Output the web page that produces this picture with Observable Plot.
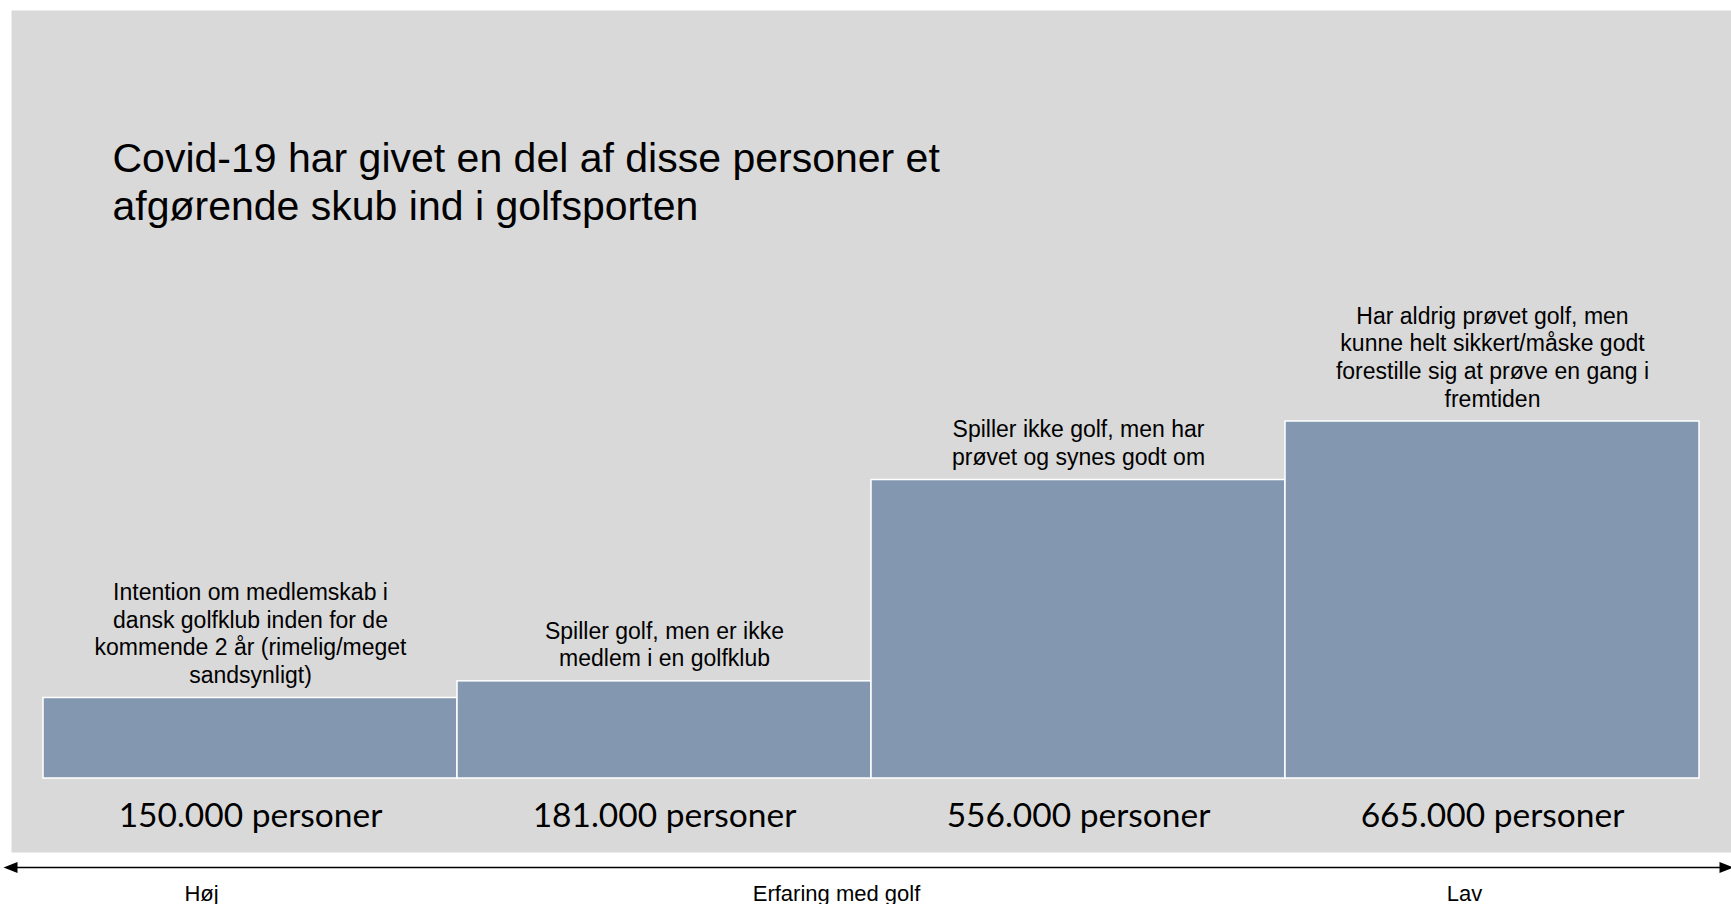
<!DOCTYPE html>
<html>
<head>
<meta charset="utf-8">
<script src="https://cdn.jsdelivr.net/npm/d3@7"></script>
<script src="https://cdn.jsdelivr.net/npm/@observablehq/plot@0.6"></script>
<style>
  html, body { margin: 0; padding: 0; background: #fff; overflow: hidden; }
  #chart svg { display: block; }
</style>
</head>
<body>
<div id="chart"></div>
<script>
// ---- data ----
const title = "Covid-19 har givet en del af disse personer et\nafgørende skub ind i golfsporten";
const categories = ["A", "B", "C", "D"];
const descriptions = [
  "Intention om medlemskab i\ndansk golfklub inden for de\nkommende 2 år (rimelig/meget\nsandsynligt)",
  "Spiller golf, men er ikke\nmedlem i en golfklub",
  "Spiller ikke golf, men har\nprøvet og synes godt om",
  "Har aldrig prøvet golf, men\nkunne helt sikkert/måske godt\nforestille sig at prøve en gang i\nfremtiden"
];
const persons = [150000, 181000, 556000, 665000];
const axisTitle = "Erfaring med golf";
const axisLow = "Høj";
const axisHigh = "Lav";
const arrowEnds = [0, 1];

// ---- build ----
const fmt = d3.formatLocale({decimal: ",", thousands: ".", grouping: [3], currency: ["", ""]}).format(",");
const data = categories.map((c, i) => ({cat: c, value: persons[i], desc: descriptions[i], label: fmt(persons[i]) + " personer"}));

const main = Plot.plot({
  width: 1731,
  height: 852,
  marginTop: 10,
  marginLeft: 11,
  marginRight: 0,
  marginBottom: 0,
  style: {background: "transparent", overflow: "visible"},
  x: {type: "band", domain: categories, range: [43, 1699], padding: 0, axis: null},
  y: {domain: [0, 665000], range: [778, 421], axis: null},
  marks: [
    Plot.frame({fill: "#d9d9d9", stroke: null}),
    Plot.text([title], {
      text: d => d, frameAnchor: "top-left", lineAnchor: "top", textAnchor: "start",
      dx: 101, dy: 127, fontSize: 41, lineHeight: 1.18, fill: "#000",
      fontFamily: "'Liberation Sans', Arial, sans-serif"
    }),
    Plot.barY(data, {x: "cat", y: "value", fill: "#8497b0", stroke: "#fff", strokeWidth: 1.5}),
    Plot.text(data, {
      x: "cat", y: "value", text: "desc", lineAnchor: "bottom", dy: -15,
      fontSize: 23, lineHeight: 1.2, fill: "#000",
      fontFamily: "'Liberation Sans', Arial, sans-serif"
    }),
    Plot.text(data, {
      x: "cat", y: () => 0, text: "label", lineAnchor: "middle", dy: 38,
      fontSize: 33.5, fill: "#000", fontFamily: "Lato, 'Open Sans', sans-serif"
    })
  ]
});

const headRight = {draw(ctx) { ctx.moveTo(7, 0); ctx.lineTo(-7, -5.5); ctx.lineTo(-7, 5.5); ctx.closePath(); }};

const bottom = Plot.plot({
  width: 1731,
  height: 52,
  marginTop: 15,
  marginBottom: 4,
  marginLeft: 10,
  marginRight: 5,
  style: {background: "transparent", overflow: "visible"},
  x: {domain: [0, 1], axis: null},
  y: {domain: [0, 1], range: [15, 48], axis: null},
  marks: [
    Plot.ruleY([0], {stroke: "#000", strokeWidth: 1.5}),
    Plot.dot(arrowEnds, {
      x: d => d, y: () => 0, symbol: headRight, r: 7, fill: "#000", stroke: null,
      rotate: d => d === 0 ? 180 : 0
    }),
    Plot.text([axisLow], {text: d => d, frameAnchor: "bottom-left", lineAnchor: "bottom", textAnchor: "middle", dx: 191, dy: 0, fontSize: 22, fill: "#000", fontFamily: "'Liberation Sans', Arial, sans-serif"}),
    Plot.text([axisTitle], {text: d => d, frameAnchor: "bottom", lineAnchor: "bottom", textAnchor: "middle", dx: -32, dy: 0, fontSize: 22, fill: "#000", fontFamily: "'Liberation Sans', Arial, sans-serif"}),
    Plot.text([axisHigh], {text: d => d, frameAnchor: "bottom-right", lineAnchor: "bottom", textAnchor: "middle", dx: -262, dy: 0, fontSize: 22, fill: "#000", fontFamily: "'Liberation Sans', Arial, sans-serif"})
  ]
});

document.getElementById("chart").append(main, bottom);
</script>
</body>
</html>
